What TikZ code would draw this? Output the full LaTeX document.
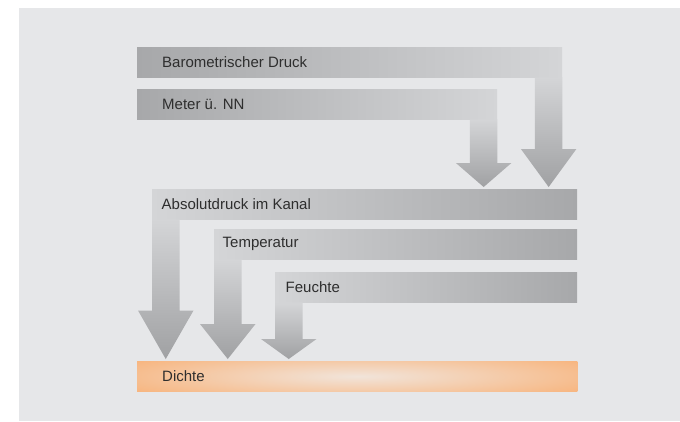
\documentclass[tikz,border=0pt]{standalone}
\usepackage{fontspec}
\setmainfont{Liberation Sans}
\usetikzlibrary{positioning,calc}

\definecolor{hintergrund}{HTML}{E6E7E9}
\definecolor{grauhell}{HTML}{D4D5D7}
\definecolor{graudunkel}{HTML}{A7A8AA}
\definecolor{pfeilspitze}{HTML}{A0A1A3}
\definecolor{textgrau}{HTML}{2E2E2E}
\definecolor{dichteorange}{HTML}{F8B075}
\definecolor{dichtehell}{HTML}{F1E4DA}

% Blockpfeil: #1 linke obere Ecke des Schafts, #2 Zielknoten, #3 Laenge der Spitze
\newcommand{\blockpfeil}[3]{%
  \shade[top color=grauhell, bottom color=pfeilspitze]
    let \p1 = (#1), \p2 = ($(#2.north)+(0,-2)$) in
    (\x1,\y1) -- (\x1+27.5pt,\y1) -- (\x1+27.5pt,\y2+#3pt)
    -- (\x1+41.5pt,\y2+#3pt) -- (\x1+13.75pt,\y2)
    -- (\x1-14pt,\y2+#3pt) -- (\x1,\y2+#3pt) -- cycle;
}

\begin{document}
\begin{tikzpicture}[x=1pt, y=-1pt,
    balken/.style={rectangle, anchor=north west, minimum height=30pt, inner sep=0pt},
    nachrechts/.style={balken, left color=graudunkel, right color=grauhell},
    nachlinks/.style={balken, left color=grauhell, right color=graudunkel},
    beschriftung/.style={anchor=west, inner sep=0pt, text=textgrau,
      font=\fontsize{15}{18}\selectfont}]

  \useasboundingbox (0,0) rectangle (680,421);
  \fill[white] (0,0) rectangle (680,421);
  \fill[hintergrund] (19,8) rectangle (680,421);

  % Eingangsgroessen oben
  \node[nachrechts, minimum width=425pt] (baro) at (137,47) {};
  \node[nachrechts, minimum width=360pt] (meter) at (137,89) {};

  % Zwischengroessen
  \node[nachlinks, minimum width=425pt] (absolut) at (152,189) {};
  \node[nachlinks, minimum width=363pt] (temperatur) at (214,229) {};
  \node[nachlinks, minimum width=302pt] (feuchte) at (275,272) {};

  % Ergebnis
  \node[balken, fill=dichteorange, minimum width=440pt] (dichte) at (137,361) {};
  \begin{scope}
    \clip (dichte.north west) rectangle (dichte.south east);
    \shade[inner color=dichtehell, outer color=dichteorange]
      (dichte.center) ellipse (300 and 30);
  \end{scope}

  % Pfeile
  \blockpfeil{$(baro.south east)+(-27.5,0)$}{absolut}{38}
  \blockpfeil{$(meter.south east)+(-27.5,0)$}{absolut}{24}
  \blockpfeil{absolut.south west}{dichte}{48.5}
  \blockpfeil{temperatur.south west}{dichte}{35}
  \blockpfeil{feuchte.south west}{dichte}{20}

  % Beschriftungen
  \node[beschriftung, right=25pt of baro.west] (barotext) {Barometrischer Druck};
  \node[beschriftung, right=25pt of meter.west] (metertext) {Meter ü. NN};
  \node[beschriftung, right=9.5pt of absolut.west] (absoluttext) {Absolutdruck im Kanal};
  \node[beschriftung, right=8.5pt of temperatur.west] (temperaturtext) {Temperatur};
  \node[beschriftung, right=10.5pt of feuchte.west] (feuchtetext) {Feuchte};
  \node[beschriftung, right=25pt of dichte.west] (dichtetext) {Dichte};
\end{tikzpicture}
\end{document}
